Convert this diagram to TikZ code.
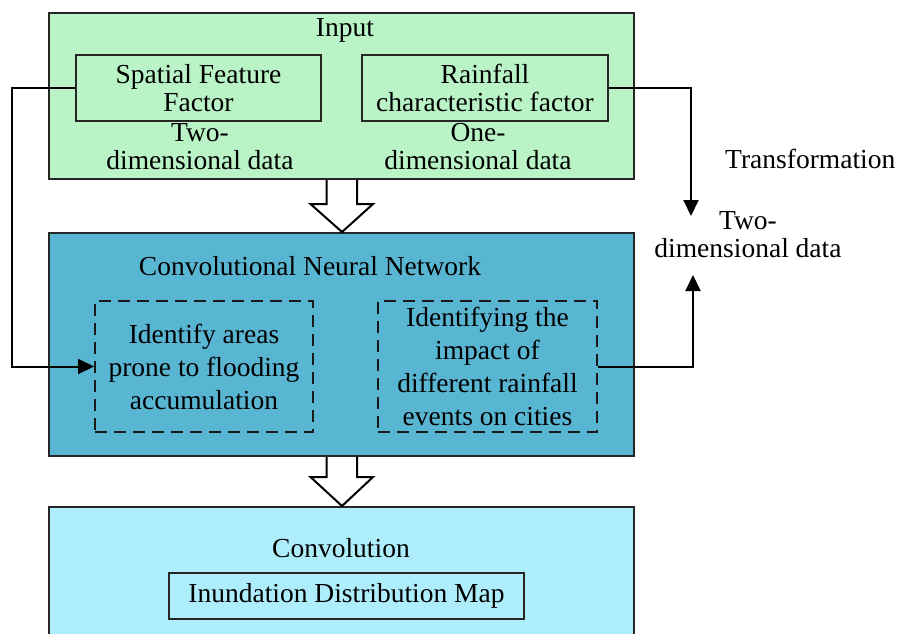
\documentclass[tikz,border=0pt]{standalone}
\usepackage{fontspec}
\setmainfont{Liberation Serif}
\usetikzlibrary{arrows.meta,calc}
\definecolor{ingreen}{HTML}{BAF3C6}
\definecolor{cnnblue}{HTML}{59B6D2}
\definecolor{convblue}{HTML}{AEEEFC}
\begin{document}
\begin{tikzpicture}[x=1pt,y=-1pt,
  box/.style={draw=black!85, line width=2pt, inner sep=0pt, align=center, font=\fontsize{27.5}{28}\selectfont},
  dbox/.style={draw=black!90, line width=2pt, dash pattern=on 12pt off 7pt, inner sep=0pt, align=center, font=\fontsize{27.5}{33}\selectfont},
  txt/.style={inner sep=0pt, align=center, font=\fontsize{27.5}{28}\selectfont},
  conn/.style={line width=2pt, -{Triangle[length=16pt,width=15pt]}},
  hollow/.style={draw=black, line width=2pt, fill=white, line join=miter}]
\clip (0,0) rectangle (898,633);
\fill[white] (0,0) rectangle (898,633);
% Input block
\node[box, fill=ingreen, minimum width=585pt, minimum height=166pt] (input) at (341.5,96) {};
\node[txt] (inputlbl) at (345,30) {Input};
\node[box, minimum width=245pt, minimum height=66pt] (spatial) at (198.5,88) {Spatial Feature\\Factor};
\node[box, minimum width=246pt, minimum height=66pt] (rainfall) at (485,88) {Rainfall\\characteristic factor};
\node[txt] (twoA) at (200,147) {Two-\\dimensional data};
\node[txt] (oneA) at (478,147) {One-\\dimensional data};
% CNN block
\node[box, fill=cnnblue, minimum width=585pt, minimum height=223pt] (cnn) at (341.5,344.5) {};
\node[txt] (cnnlbl) at (310,266) {Convolutional Neural Network};
\node[dbox, minimum width=218pt, minimum height=131pt] (id1) at (204,366.5) {Identify areas\\prone to flooding\\accumulation};
\node[dbox, minimum width=219pt, minimum height=131pt] (id2) at (487.5,366.5) {Identifying the\\impact of\\different rainfall\\events on cities};
% Convolution block
\node[box, fill=convblue, minimum width=585pt, minimum height=140pt] (conv) at (341.5,577) {};
\node[txt] (convlbl) at (341,548) {Convolution};
\node[box, minimum width=355pt, minimum height=46pt] (map) at (346.5,596) {Inundation Distribution Map};
% Right labels
\node[txt, anchor=west] (trans) at (725,159) {Transformation};
\node[txt] (twoB) at (748,235) {Two-\\dimensional data};
% hollow arrows
\draw[hollow] ($(input.south)+(-15,0)$) -- ++(0,24) -- ++(-16,0) -- ($(cnn.north)+(0.5,0)$) -- ($(input.south)+(31.5,24)$) -- ++(-16,0) -- ($(input.south)+(15.5,0)$);
\draw[hollow] ($(cnn.south)+(-15,0)$) -- ++(0,20) -- ++(-16,0) -- ($(conv.north)+(0.5,0)$) -- ($(cnn.south)+(31.5,20)$) -- ++(-16,0) -- ($(cnn.south)+(15.5,0)$);
% connectors
\coordinate (lbend) at (12,0);
\draw[conn] (spatial.west) -- (lbend |- spatial.west) |- (id1.west);
\coordinate (tipdown) at (691,216);
\draw[conn] (rainfall.east) -| (tipdown);
\coordinate (tipup) at (693,275);
\draw[conn] (id2.east) -| (tipup);
\end{tikzpicture}
\end{document}
